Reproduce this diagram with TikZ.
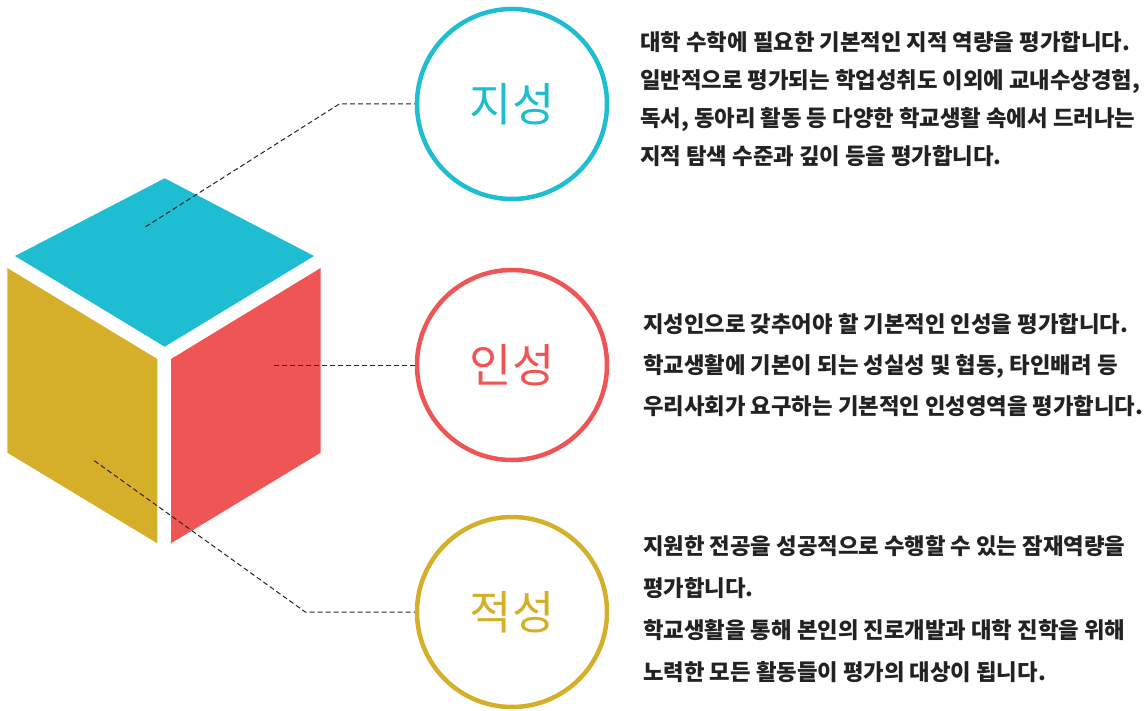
\documentclass[tikz,border=0pt]{standalone}
\usepackage{fontspec}
\setmainfont{Noto Sans CJK KR}
\newfontfamily\kr{Noto Sans CJK KR}
\definecolor{cyanc}{HTML}{1EBDD1}
\definecolor{redc}{HTML}{F05555}
\definecolor{goldc}{HTML}{D5AF29}
\definecolor{txt}{HTML}{222222}
\begin{document}
\begin{tikzpicture}[x=1pt,y=-1pt,
  ring/.style={circle, draw=#1, line width=4.5pt, minimum size=190pt, inner sep=0pt, text=#1, font=\kr\fontsize{46}{50}\selectfont},
  lead/.style={draw=black!85, line width=1pt, dash pattern=on 5pt off 3pt},
  body/.style={anchor=north west, align=left, text=txt, inner sep=0pt, font=\kr\bfseries\fontsize{22.3}{#1}\selectfont}]
\useasboundingbox (0,0) rectangle (1146,711);
% cube
\fill[cyanc] (164.7,178.3) -- (314,256) -- (164.7,346.7) -- (15,256) -- cycle;
\fill[goldc] (7.3,268) -- (157.3,359) -- (157.3,543.3) -- (7.3,452.7) -- cycle;
\fill[redc] (171,359) -- (320.7,268) -- (320.7,452.7) -- (171,543.3) -- cycle;
% circles
\node[ring=cyanc] (c1) at (512,104) {지성};
\node[ring=redc] (c2) at (512,365) {인성};
\node[ring=goldc] (c3) at (512,612) {적성};
% leads
\coordinate (s1) at (145.7,226.7);
\coordinate (k1) at (339.3,104);
\coordinate (s2) at (274,365);
\coordinate (s3) at (94.3,460.7);
\coordinate (k3) at (305.3,612);
\draw[lead] (s1) -- (k1) -- (c1.west);
\draw[lead] (s2) -- (c2.west);
\draw[lead] (s3) -- (k3) -- (c3.west);
% texts
\node[body=38] (t1) at (640,31) {대학 수학에 필요한 기본적인 지적 역량을 평가합니다.\\일반적으로 평가되는 학업성취도 이외에 교내수상경험,\\독서, 동아리 활동 등 다양한 학교생활 속에서 드러나는\\지적 탐색 수준과 깊이 등을 평가합니다.};
\node[body=41] (t2) at (643,313) {지성인으로 갖추어야 할 기본적인 인성을 평가합니다.\\학교생활에 기본이 되는 성실성 및 협동, 타인배려 등\\우리사회가 요구하는 기본적인 인성영역을 평가합니다.};
\node[body=42] (t3) at (643,535) {지원한 전공을 성공적으로 수행할 수 있는 잠재역량을\\평가합니다.\\학교생활을 통해 본인의 진로개발과 대학 진학을 위해\\노력한 모든 활동들이 평가의 대상이 됩니다.};
\end{tikzpicture}
\end{document}
